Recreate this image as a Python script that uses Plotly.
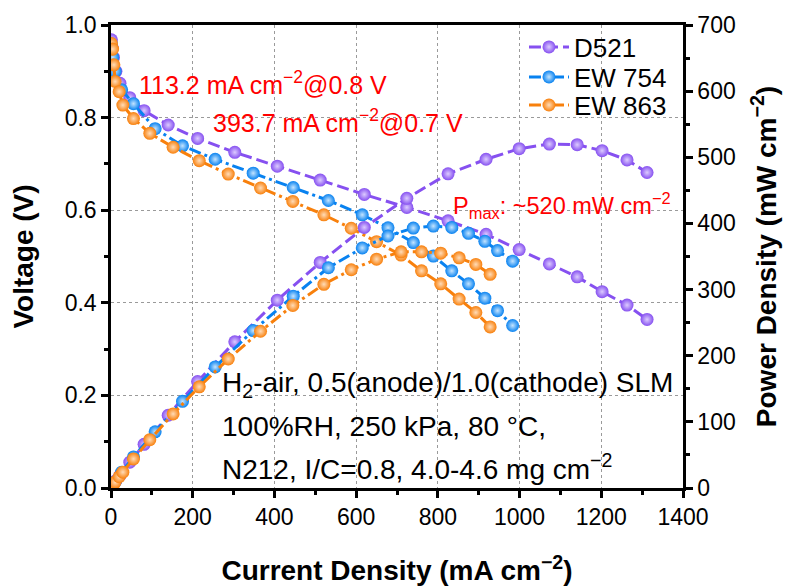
import plotly.graph_objects as go

# ---------------- data ----------------
d521_i = [1, 3, 6, 12, 22, 46, 81, 140, 212, 303, 407, 512, 620, 724, 825, 918, 999, 1073, 1141, 1202, 1263, 1312]
d521_v = [0.968, 0.950, 0.930, 0.900, 0.874, 0.843, 0.815, 0.784, 0.755, 0.725, 0.695, 0.665, 0.634, 0.606,
          0.577, 0.548, 0.515, 0.484, 0.456, 0.424, 0.395, 0.364]
d521_p = [1, 3, 6, 11, 19, 39, 66, 110, 161, 221, 284, 341, 394, 438, 475, 497, 513, 520, 519, 510, 496, 477]

ew754_i = [1, 4, 10, 26, 55, 108, 175, 255, 348, 446, 532, 615, 678, 740, 789, 834, 875, 915, 946, 983]
ew754_v = [0.958, 0.930, 0.900, 0.860, 0.830, 0.776, 0.739, 0.710, 0.680, 0.649, 0.621, 0.590, 0.562, 0.530,
           0.501, 0.469, 0.441, 0.410, 0.383, 0.351]
ew754_p = [1, 4, 9, 24, 47, 85, 131, 183, 238, 290, 333, 363, 381, 393, 396, 394, 385, 373, 359, 343]

ew863_i = [1, 4, 7, 10, 20, 29, 55, 95, 152, 216, 287, 366, 445, 521, 588, 650, 710, 760, 807, 852, 893, 928]
ew863_v = [0.960, 0.948, 0.914, 0.878, 0.856, 0.827, 0.798, 0.766, 0.736, 0.707, 0.678, 0.648, 0.619, 0.590,
           0.561, 0.532, 0.503, 0.469, 0.441, 0.408, 0.379, 0.348]
ew863_p = [1, 4, 6, 9, 17, 24, 44, 73, 112, 153, 195, 237, 276, 308, 330, 346, 357, 357, 355, 348, 338, 323]

series_names = ["D521", "EW 754", "EW 863"]
x_ticks = [0, 200, 400, 600, 800, 1000, 1200, 1400]
v_ticks = [0.0, 0.2, 0.4, 0.6, 0.8, 1.0]
p_ticks = [0, 100, 200, 300, 400, 500, 600, 700]

# ---------------- styles ----------------
colors = ["#8650f0", "#0882f0", "#f8800c"]
lights = ["#dccbff", "#c4e4ff", "#ffdcb8"]
dashes = ["12px,5px", "12px,4px,3px,4px", "12px,4px,3px,4px"]
legend_ids = ["legend", "legend2", "legend3"]
legend_y = [0.9525, 0.8877, 0.827]
FONT = "Arial, Liberation Sans, sans-serif"

fig = go.Figure()
data = [(d521_i, d521_v, d521_p), (ew754_i, ew754_v, ew754_p), (ew863_i, ew863_v, ew863_p)]
for k, (ii, vv, pp) in enumerate(data):
    marker = dict(size=13, color=colors[k], line=dict(width=0),
                  gradient=dict(type="radial", color=lights[k]))
    fig.add_trace(go.Scatter(x=ii, y=vv, mode="lines+markers", name=series_names[k],
                             line=dict(color=colors[k], width=3, dash=dashes[k]),
                             marker=marker, yaxis="y", legend=legend_ids[k]))
    fig.add_trace(go.Scatter(x=ii, y=pp, mode="lines+markers", name=series_names[k],
                             line=dict(color=colors[k], width=3, dash=dashes[k]),
                             marker=marker, yaxis="y2", showlegend=False))

axis_common = dict(showline=True, linecolor="black", linewidth=2.5, ticks="outside",
                   tickwidth=2.5, ticklen=7, tickcolor="black", zeroline=False, automargin=False,
                   tickfont=dict(family=FONT, size=23, color="black"))
TITLE_FONT = dict(family=FONT, size=28, color="black")

legend_style = dict(x=0.722, xanchor="left", yanchor="middle", bgcolor="rgba(0,0,0,0)",
                    font=dict(family=FONT, size=26, color="black"), itemwidth=40)

fig.update_layout(
    width=786, height=579,
    margin=dict(l=103, r=111, t=17, b=99, autoexpand=False),
    paper_bgcolor="white", plot_bgcolor="white",
    font=dict(family=FONT, color="black"),
    xaxis=dict(range=[0, 1400], tickvals=x_ticks, ticktext=[str(t) for t in x_ticks],
               mirror=True, showgrid=True, gridcolor="#9a9a9a", griddash="dot", gridwidth=1,
               minor=dict(ticks="outside", dtick=100, ticklen=4, tickwidth=2.5, tickcolor="black"),
               title=dict(text="<b>Current Density (mA cm<sup>−2</sup>)</b>",
                          font=TITLE_FONT, standoff=32),
               **axis_common),
    yaxis=dict(range=[0, 1.0], tickvals=v_ticks, ticktext=[f"{t:.1f}" for t in v_ticks],
               showgrid=True, gridcolor="#9a9a9a", griddash="dot", gridwidth=1,
               minor=dict(ticks="outside", dtick=0.1, ticklen=4, tickwidth=2.5, tickcolor="black"),
               title=dict(text="<b>Voltage (V)</b>", font=TITLE_FONT, standoff=23),
               **axis_common),
    yaxis2=dict(range=[0, 700], tickvals=p_ticks, ticktext=[str(t) for t in p_ticks],
                overlaying="y", side="right", showgrid=False,
                minor=dict(ticks="outside", dtick=50, ticklen=4, tickwidth=2.5, tickcolor="black"),
                title=dict(text="<b>Power Density (mW cm<sup>−2</sup>)</b>",
                           font=TITLE_FONT, standoff=22),
                **axis_common),
    legend=dict(y=legend_y[0], **legend_style),
    legend2=dict(y=legend_y[1], **legend_style),
    legend3=dict(y=legend_y[2], **legend_style),
    showlegend=True,
)

red = dict(family=FONT, size=25, color="#ff0000")
fig.add_annotation(x=63, y=0.875, xref="x", yref="y", xanchor="left", yanchor="middle",
                   text="113.2 mA cm<sup>−2</sup>@0.8 V", showarrow=False, font=red)
fig.add_annotation(x=244, y=0.793, xref="x", yref="y", xanchor="left", yanchor="middle",
                   text="393.7 mA cm<sup>−2</sup>@0.7 V", showarrow=False, font=red)
fig.add_annotation(x=832, y=0.611, xref="x", yref="y", xanchor="left", yanchor="middle",
                   text="P<sub>max</sub>: ~520 mW cm<sup>−2</sup>", showarrow=False,
                   font=dict(family=FONT, size=23.5, color="#ff0000"))

blk = dict(family=FONT, size=28, color="black")
inset_lines = ["H<sub>2</sub>-air, 0.5(anode)/1.0(cathode) SLM",
               "100%RH, 250 kPa, 80 °C,",
               "N212, I/C=0.8, 4.0-4.6 mg cm<sup>−2</sup>"]
inset_y = [0.224, 0.132, 0.046]
for t, yy in zip(inset_lines, inset_y):
    fig.add_annotation(x=266, y=yy, xref="x", yref="y", xanchor="left", yanchor="middle",
                       text=t, showarrow=False, font=blk)

fig.write_html("out.html")
